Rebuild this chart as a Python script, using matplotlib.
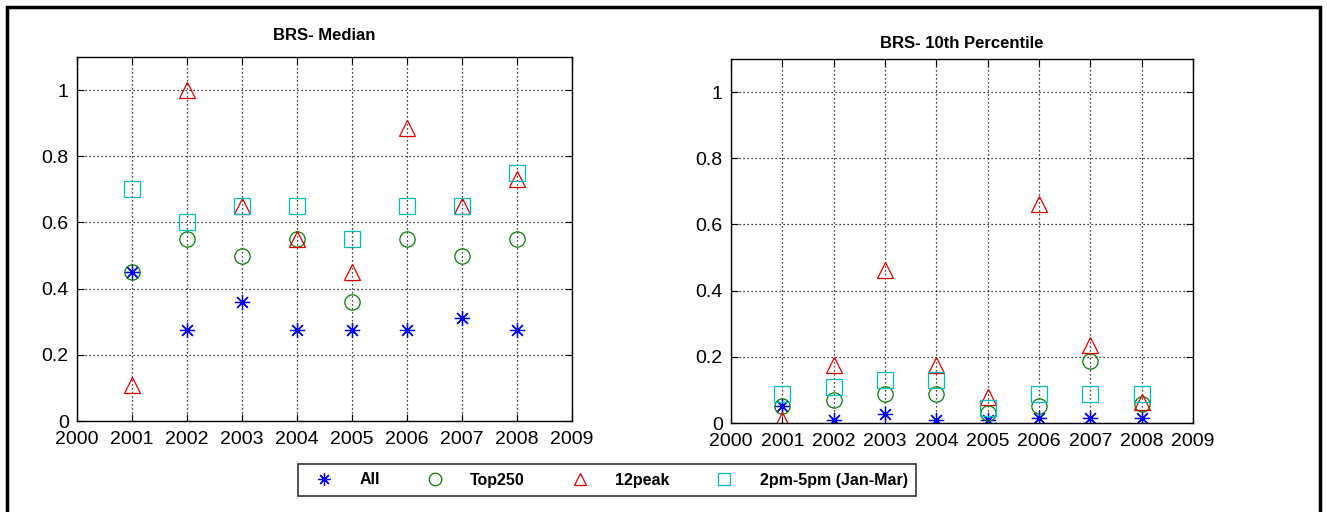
import matplotlib
matplotlib.use("Agg")
import matplotlib.pyplot as plt
from matplotlib.patches import Rectangle
from matplotlib.lines import Line2D

plt.rcParams['font.family'] = ['Liberation Sans', 'DejaVu Sans']

years = [2001, 2002, 2003, 2004, 2005, 2006, 2007, 2008]
series_names = ["All", "Top250", "12peak", "2pm-5pm (Jan-Mar)"]

median_all = [0.45, 0.275, 0.36, 0.275, 0.275, 0.275, 0.31, 0.275]
median_top250 = [0.45, 0.55, 0.50, 0.55, 0.36, 0.55, 0.50, 0.55]
median_12peak = [0.11, 1.0, 0.65, 0.55, 0.45, 0.885, 0.65, 0.73]
median_2pm = [0.70, 0.60, 0.65, 0.65, 0.55, 0.65, 0.65, 0.75]

p10_all = [0.05, 0.01, 0.027, 0.01, 0.008, 0.016, 0.016, 0.016]
p10_top250 = [0.05, 0.071, 0.089, 0.089, 0.03, 0.05, 0.187, 0.058]
p10_12peak = [0.008, 0.174, 0.463, 0.174, 0.079, 0.663, 0.235, 0.063]
p10_2pm = [0.089, 0.109, 0.129, 0.129, 0.045, 0.089, 0.089, 0.089]

xticks = list(range(2000, 2010))
yticks = [0, 0.2, 0.4, 0.6, 0.8, 1.0]
ytick_labels = ["0", "0.2", "0.4", "0.6", "0.8", "1"]

colors = ["#0000ff", "#008000", "#e00000", "#00bfbf"]
markers = [(8, 2, 0), "o", "^", "s"]

W, H = 1327, 512
fig = plt.figure(figsize=(W / 100, H / 100), dpi=100)

def ax_rect(l, t, r, b):
    return [l / W, 1 - b / H, (r - l) / W, (b - t) / H]

ax1 = fig.add_axes(ax_rect(77, 57, 572, 421))
ax2 = fig.add_axes(ax_rect(731, 59, 1193, 423))

def draw(ax, data, title, title_y):
    for vals, c, m in zip(data, colors, markers):
        ax.plot(years, vals, linestyle='none', marker=m,
                markersize=12 if m == "^" else 11,
                markerfacecolor='none', markeredgecolor=c, markeredgewidth=0.9)
    ax.set_xlim(2000, 2009)
    ax.set_ylim(0, 1.1)
    ax.set_xticks(xticks)
    ax.set_xticklabels([str(x) for x in xticks])
    ax.set_yticks(yticks)
    ax.set_yticklabels(ytick_labels)
    ax.grid(True, linestyle=(0, (1, 2.2)), color='black', linewidth=0.9)
    ax.tick_params(direction='in', length=5, top=True, right=True,
                   labelsize=14)
    ax.tick_params(axis='x', pad=7)
    ax.tick_params(axis='y', pad=6)
    for s in ax.spines.values():
        s.set_linewidth(1.0)
    ax.set_title(title, fontsize=12, fontweight='bold', pad=title_y)

draw(ax1, [median_all, median_top250, median_12peak, median_2pm], "BRS- Median", 12)
draw(ax2, [p10_all, p10_top250, p10_12peak, p10_2pm], "BRS- 10th Percentile", 8)

handles = [Line2D([], [], linestyle='none', marker=m, markersize=9,
                  markerfacecolor='none', markeredgecolor=c, markeredgewidth=0.9)
           for c, m in zip(colors, markers)]
leg = fig.legend(handles, series_names, loc='center', ncol=4,
                 bbox_to_anchor=(607 / W, 1 - 480 / H),
                 frameon=True, fancybox=False, edgecolor='black',
                 prop={'size': 11.5, 'weight': 'bold'},
                 handlelength=2.2, handletextpad=1.1, columnspacing=2.35,
                 borderpad=0.55)
leg.get_frame().set_linewidth(1.2)

fig.patches.append(Rectangle((7 / W, -0.02), (1320 - 7) / W, 1.02 - 7 / H,
                             transform=fig.transFigure, fill=False,
                             edgecolor='black', linewidth=2.5))

fig.savefig("out.png", dpi=100)
